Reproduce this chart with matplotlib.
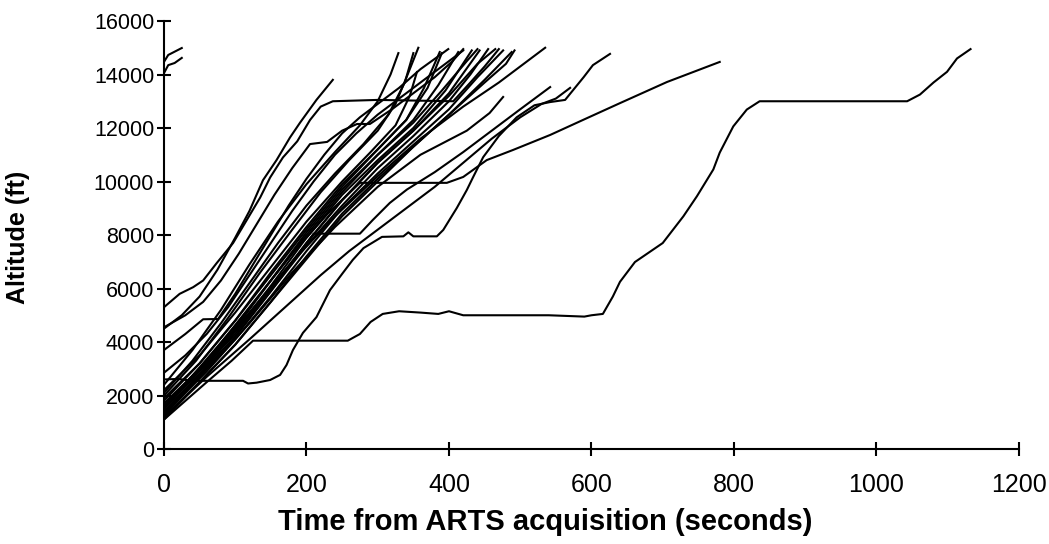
import matplotlib
matplotlib.use("Agg")
import matplotlib.pyplot as plt

# Trayectorias de ascenso: (tiempo s, altitud ft)
fast_tracks = [
    [(0, 5300), (22, 5800), (41, 6050), (55, 6300), (74, 6950), (97, 7700), (116, 8550), (135, 9400),
     (149, 10150), (167, 10900), (187, 11500), (205, 12300), (220, 12800), (237, 13000), (300, 13050),
     (406, 13000), (430, 13700), (450, 14300), (470, 14950)],
    [(0, 4500), (25, 5000), (50, 5700), (75, 6700), (100, 7900), (120, 8900), (139, 10050), (158, 10800),
     (177, 11650), (191, 12200), (214, 13050), (237, 13800)],
    [(0, 4550), (30, 5000), (55, 5500), (80, 6300), (105, 7300), (130, 8400), (155, 9500), (180, 10500),
     (205, 11400), (229, 11480), (250, 11900), (271, 12150), (289, 12150), (320, 12700), (350, 13300),
     (380, 13900), (405, 14500), (420, 14950)],
    [(0, 3700), (30, 4300), (55, 4850), (76, 4860), (100, 5800), (125, 6900), (150, 8000), (175, 9100),
     (200, 10100), (225, 11000), (250, 11800), (275, 12400), (300, 12900), (330, 13500), (360, 14200),
     (399, 14950)],
    [(0, 2850), (30, 3500), (60, 4300), (90, 5300), (120, 6500), (150, 7700), (180, 8900), (210, 10000),
     (240, 11000), (270, 11800), (300, 12500), (330, 13100), (360, 13700), (390, 14300), (420, 14900)],
    [(0, 14050), (6, 14350), (15, 14430), (25, 14620)],
    [(0, 14470), (6, 14730), (25, 14990)],
]

bundle_tracks = [
    [(0, 2400), (40, 3700), (80, 5200), (120, 6900), (160, 8500), (200, 9900), (240, 11100), (275, 12100),
     (300, 13000), (318, 14000), (329, 14800)],
    [(0, 2000), (45, 3300), (90, 4900), (135, 6600), (180, 8200), (220, 9600), (260, 10800), (300, 11900),
     (325, 12900), (342, 14000), (357, 15000)],
    [(0, 2200), (50, 3500), (100, 5100), (150, 6800), (200, 8500), (250, 10000), (290, 11100), (325, 12100),
     (345, 13200), (355, 14090)],
    [(0, 1900), (50, 3200), (100, 4800), (150, 6600), (200, 8300), (250, 9900), (300, 11200), (340, 12300),
     (365, 13500), (387, 14840)],
    [(0, 1700), (50, 3000), (100, 4500), (150, 6300), (200, 8000), (250, 9600), (300, 11000), (350, 12300),
     (385, 13600), (413, 14840)],
    [(0, 1600), (50, 2950), (100, 4400), (150, 6100), (200, 7900), (250, 9500), (300, 10800), (350, 12000),
     (395, 13400), (432, 14900)],
    [(0, 1500), (50, 2900), (100, 4300), (150, 6000), (200, 7700), (250, 9300), (300, 10700), (350, 11900),
     (400, 13300), (443, 14900)],
    [(0, 1400), (50, 2800), (100, 4200), (150, 5900), (200, 7600), (250, 9100), (300, 10500), (350, 11700),
     (400, 13000), (430, 14000), (455, 14950)],
    [(0, 1250), (50, 2700), (100, 4100), (150, 5700), (200, 7400), (250, 9000), (300, 10300), (350, 11500),
     (400, 12700), (440, 13900), (476, 14900)],
    [(0, 1100), (50, 2500), (100, 3900), (150, 5500), (200, 7200), (250, 8800), (300, 10100), (350, 11300),
     (400, 12500), (450, 13800), (488, 14840)],
    [(0, 1800), (50, 3200), (100, 4800), (150, 6500), (200, 8200), (250, 9800), (300, 11200), (340, 12300),
     (370, 13500), (390, 14800)],
    [(0, 2100), (40, 3300), (80, 4700), (120, 6200), (160, 7700), (200, 9100), (240, 10300), (280, 11400),
     (315, 12500), (338, 13700), (350, 14800)],
    [(0, 1300), (60, 2900), (120, 4700), (180, 6600), (240, 8300), (300, 9800), (360, 11000), (425, 11900),
     (457, 12560), (476, 13160)],
    [(0, 1600), (60, 3300), (120, 5100), (180, 7000), (240, 8700), (300, 10200), (360, 11600), (420, 12800),
     (470, 13700), (505, 14400), (535, 15000)],
    [(0, 1350), (50, 2750), (100, 4200), (150, 5900), (200, 7700), (250, 9300), (300, 10700), (350, 11900),
     (400, 13200), (440, 14400), (465, 14950)],
    [(0, 1550), (50, 3050), (100, 4600), (150, 6300), (200, 8100), (250, 9700), (300, 11000), (350, 12200),
     (390, 13400), (425, 14500), (440, 14950)],
    [(0, 1200), (50, 2500), (100, 3900), (150, 5500), (200, 7100), (250, 8700), (300, 10000), (350, 11300),
     (400, 12500), (450, 13700), (480, 14400), (492, 14900)],
]

slow_tracks = [
    # espera a 4000 y 5000 ft, luego 13000 ft
    [(0, 1100), (30, 1800), (60, 2500), (95, 3300), (125, 4050), (258, 4050), (275, 4300), (290, 4750),
     (307, 5050), (330, 5150), (360, 5100), (385, 5050), (400, 5150), (420, 5000), (460, 5000), (540, 5000),
     (590, 4950), (600, 5000), (616, 5050), (630, 5700), (640, 6250), (661, 6990), (700, 7700), (729, 8700),
     (748, 9450), (771, 10450), (780, 11080), (799, 12060), (818, 12690), (836, 13000), (1043, 13000),
     (1061, 13250), (1080, 13700), (1099, 14100), (1113, 14600), (1132, 14950)],
    # espera a 2500 y 8000 ft
    [(0, 2600), (20, 2620), (40, 2550), (55, 2550), (111, 2550), (118, 2450), (130, 2480), (149, 2580),
     (163, 2770), (172, 3140), (181, 3700), (195, 4340), (214, 4930), (233, 5940), (251, 6580), (265, 7070),
     (280, 7510), (306, 7930), (336, 7950), (343, 8100), (350, 7950), (383, 7950), (392, 8190), (411, 9010),
     (425, 9680), (434, 10170), (448, 10910), (470, 11700), (495, 12400), (520, 12850), (542, 12970),
     (563, 13050), (589, 13900), (602, 14350), (626, 14770)],
    # espera a 10000 ft, ascenso lento
    [(0, 1500), (60, 3300), (120, 5300), (180, 7300), (230, 8800), (275, 9950), (397, 9950), (420, 10170),
     (453, 10800), (490, 11180), (542, 11740), (588, 12300), (640, 12930), (706, 13720), (780, 14470)],
    # espera a 8000 ft
    [(0, 1400), (50, 2800), (100, 4400), (150, 6000), (190, 7300), (210, 8050), (275, 8050), (293, 8560),
     (317, 9200), (341, 9700), (380, 10350), (420, 11100), (460, 11900), (500, 12700), (542, 13530)],
    [(0, 1200), (60, 2700), (120, 4100), (170, 5300), (220, 6500), (260, 7400), (300, 8200), (340, 9000),
     (380, 9800), (420, 10700), (460, 11600), (500, 12400), (530, 12900), (550, 13100), (570, 13500)],
]

fig, ax = plt.subplots(figsize=(10.49, 5.44), dpi=100)
fig.subplots_adjust(left=0.1563, right=0.9714, bottom=0.1746, top=0.9614)

for track in fast_tracks + bundle_tracks + slow_tracks:
    t = [p[0] for p in track]
    alt = [p[1] for p in track]
    ax.plot(t, alt, color="black", linewidth=1.5)

ax.set_xlim(0, 1200)
ax.set_ylim(0, 16000)
ax.set_xticks(range(0, 1201, 200))
ax.set_yticks(range(0, 16001, 2000))
ax.spines["top"].set_visible(False)
ax.spines["right"].set_visible(False)
ax.spines["left"].set_linewidth(1.5)
ax.spines["bottom"].set_linewidth(1.5)
ax.tick_params(direction="inout", length=10, width=1.5)
ax.tick_params(axis="x", labelsize=18, pad=12)
ax.tick_params(axis="y", labelsize=15.5, pad=2)
for lbl in ax.get_xticklabels() + ax.get_yticklabels():
    lbl.set_fontfamily("Liberation Sans")

ax.set_xlabel("Time from ARTS acquisition (seconds)", fontsize=21, fontweight="bold",
              family="Liberation Sans")
ax.set_ylabel("Altitude (ft)", fontsize=18, fontweight="bold", family="Liberation Sans")
ax.xaxis.set_label_coords(0.4456, -0.1706)
ax.yaxis.set_label_coords(-0.1708, 0.495)
ax.xaxis.label.set_verticalalignment("center")
ax.yaxis.label.set_verticalalignment("center")

plt.savefig("out.png")
